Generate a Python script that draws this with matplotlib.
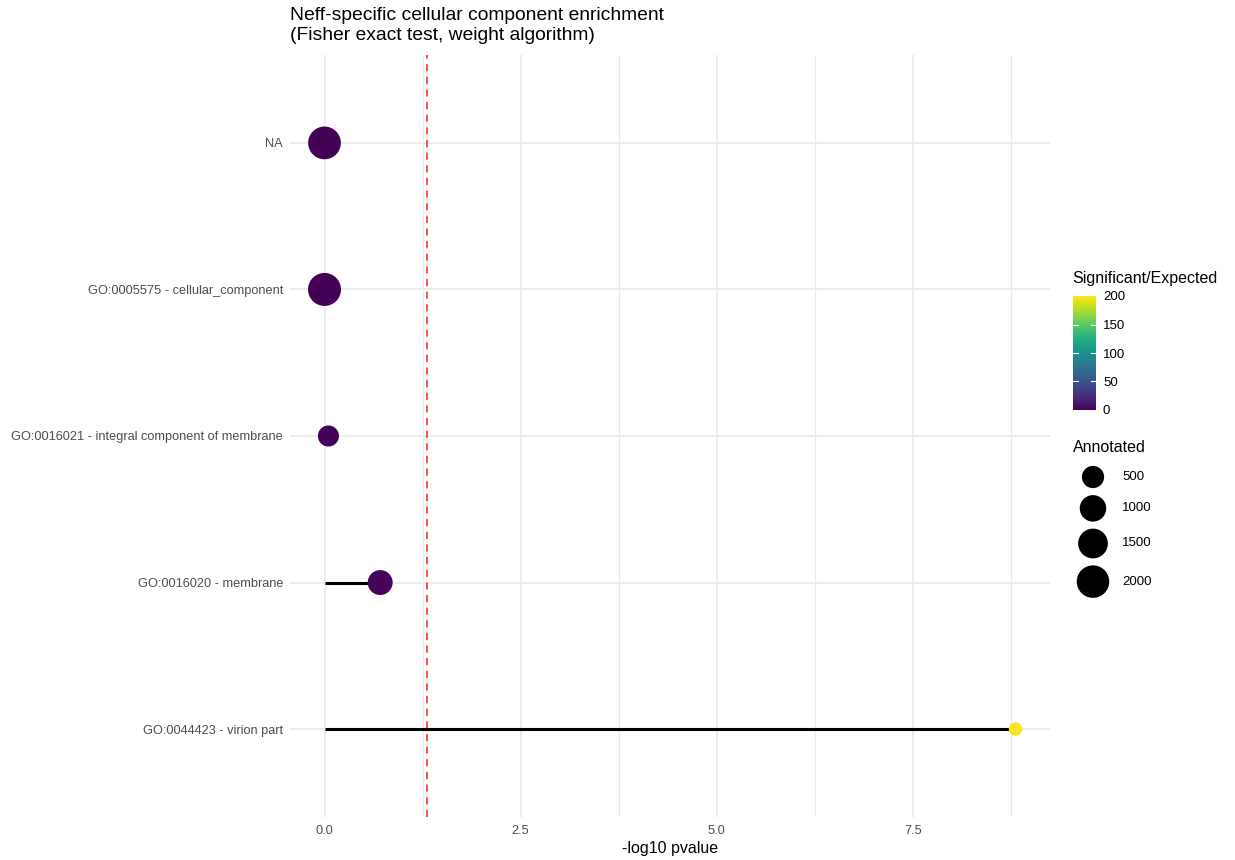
import numpy as np
import matplotlib
matplotlib.use("Agg")
import matplotlib.pyplot as plt

plt.rcParams['font.family'] = ['Liberation Sans', 'DejaVu Sans']

terms = ["GO:0044423 - virion part",
         "GO:0016020 - membrane",
         "GO:0016021 - integral component of membrane",
         "GO:0005575 - cellular_component",
         "NA"]
neglog_p = [8.81, 0.71, 0.05, 0.0, 0.0]
annotated = [10, 800, 390, 2100, 2050]
sig_exp = [198, 2.1, 1.4, 1.0, 1.0]
size_breaks = [500, 1000, 1500, 2000]

W, H = 1235, 860
ann_max = 2100.0
def diam_px(v):
    # area-style size scale, diameter in pixels
    return 12 + 21 * np.sqrt(np.asarray(v, dtype=float) / ann_max)

px2pt = 0.72

fig = plt.figure(figsize=(W / 100, H / 100), dpi=100)
ax = fig.add_axes([290/W, 43/H, 760/W, 762/H])

grid_col = "#ebebeb"
for v in [1.25, 3.75, 6.25, 8.75]:
    ax.axvline(v, color=grid_col, lw=0.8, zorder=0)
for v in [0, 2.5, 5.0, 7.5]:
    ax.axvline(v, color=grid_col, lw=1.3, zorder=0)
ypos = np.arange(len(terms))
for y in ypos:
    ax.axhline(y, color=grid_col, lw=1.3, zorder=0)

ax.hlines(ypos, 0, neglog_p, color="black", lw=2.2, zorder=2)
ax.axvline(-np.log10(0.05), color="#ff4040", lw=1.3, ls=(0, (4, 3)), zorder=1)

cmap = plt.get_cmap("viridis")
sc = ax.scatter(neglog_p, ypos, s=(diam_px(annotated) * px2pt) ** 2,
                c=sig_exp, cmap=cmap, vmin=0, vmax=200, zorder=3,
                edgecolors="none")

ax.set_xlim(-0.44, 9.25)
ax.set_ylim(-0.6, len(terms) - 0.4)
ax.set_xticks([0, 2.5, 5.0, 7.5])
ax.set_xticklabels(["0.0", "2.5", "5.0", "7.5"])
ax.set_yticks(ypos)
ax.set_yticklabels(terms)
ax.tick_params(length=0, labelsize=9.2, labelcolor="#4d4d4d", pad=5)
ax.tick_params(axis="x", pad=6)
for s in ax.spines.values():
    s.set_visible(False)
ax.set_xlabel("-log10 pvalue", fontsize=11.5, labelpad=3)

fig.text(290/W, 1 - 7/H, "Neff-specific cellular component enrichment\n(Fisher exact test, weight algorithm)",
         fontsize=13.9, va="top", ha="left", linespacing=1.2)

# colour bar
cax = fig.add_axes([1073/W, (H-410)/H, 23/W, 114/H])
cb = fig.colorbar(sc, cax=cax)
cb.outline.set_visible(False)
cb.set_ticks([0, 50, 100, 150, 200])
cax.tick_params(length=0, labelsize=9.5, pad=5)
for t in [50, 100, 150]:
    cax.plot([0, 0.2], [t, t], color="white", lw=0.8, transform=cax.get_yaxis_transform())
    cax.plot([0.8, 1.0], [t, t], color="white", lw=0.8, transform=cax.get_yaxis_transform())
fig.text(1072/W, 1 - 279/H, "Significant/Expected", fontsize=11.5, va="center", ha="left")

# size legend, drawn in a pixel-unit axes
lax = fig.add_axes([1060/W, (H-620)/H, 120/W, 160/H])
lax.set_xlim(1060, 1180)
lax.set_ylim(620, 460)
lax.axis("off")
d = diam_px(size_breaks)
rows = [477.0]
for i in range(1, len(d)):
    rows.append(rows[-1] + (d[i-1] + d[i]) / 2 + 7)
lax.scatter([1093] * len(d), rows, s=(d * px2pt) ** 2, color="black", edgecolors="none")
for b, yv in zip(size_breaks, rows):
    lax.text(1122, yv, str(b), fontsize=9.5, va="center", ha="left")
fig.text(1073/W, 1 - 448/H, "Annotated", fontsize=11.5, va="center", ha="left")

fig.savefig("out.png", dpi=100, facecolor="white")
